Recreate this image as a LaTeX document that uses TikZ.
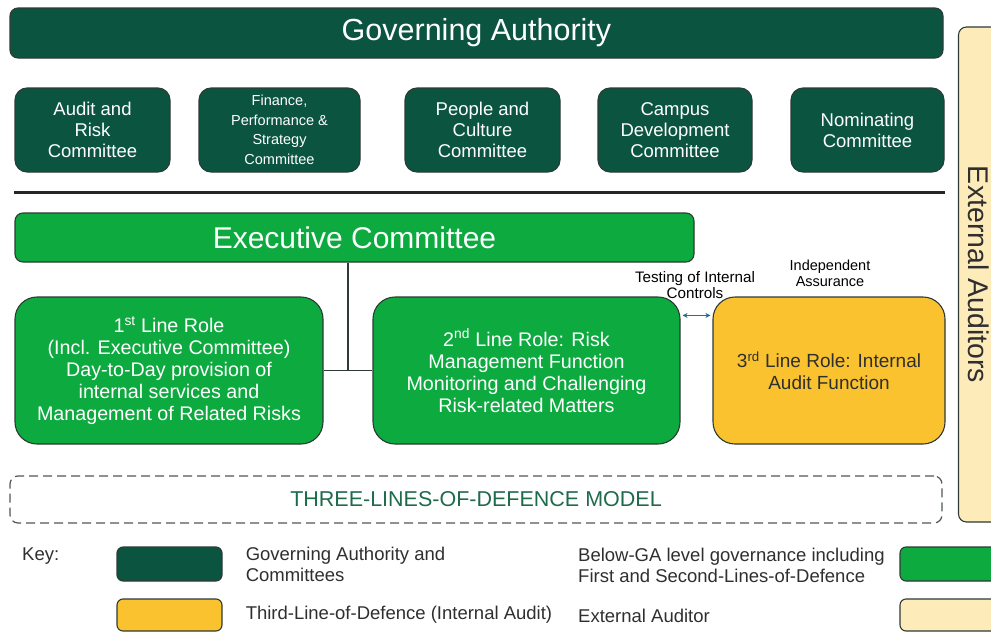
\documentclass[tikz,border=0pt]{standalone}
\usepackage{fontspec}
\setmainfont{Liberation Sans}
\usetikzlibrary{arrows.meta,positioning,calc}

\definecolor{gaDark}{HTML}{0B5540}
\definecolor{elGreen}{HTML}{0DAA40}
\definecolor{ilYellow}{HTML}{F9C22E}
\definecolor{eaCream}{HTML}{FDEBBA}
\definecolor{bdGrey}{HTML}{2E3A35}
\definecolor{tlText}{HTML}{1E6B4C}
\definecolor{tcBlue}{HTML}{2B6A94}
\definecolor{txDark}{HTML}{2F2F2F}

\newcommand{\pxfont}[2]{\fontsize{#1}{#2}\selectfont}

\tikzset{
  gabox/.style={
    draw=bdGrey, line width=1.1pt, inner sep=0pt, align=center
  },
  govbar/.style={gabox, fill=gaDark, text=white, rounded corners=8pt,
    minimum height=50pt, font=\pxfont{30.5}{34}},
  cttee/.style={gabox, fill=gaDark, text=white, rounded corners=12pt,
    minimum height=84pt, font=\pxfont{18.5}{21}},
  execbar/.style={gabox, fill=elGreen, text=white, rounded corners=8pt,
    minimum height=49pt, font=\pxfont{30}{34}},
  linerole/.style={gabox, fill=elGreen, text=white, rounded corners=22pt,
    minimum height=147pt, font=\pxfont{19.7}{22}},
  thirdrole/.style={linerole, fill=ilYellow, text=txDark},
  extaud/.style={gabox, fill=eaCream, text=txDark, rounded corners=8pt,
    rotate=-90, minimum width=495pt, minimum height=40pt, font=\pxfont{28.5}{32}},
  modelbox/.style={draw=bdGrey!85, line width=1.2pt, dash pattern=on 9pt off 5pt,
    rounded corners=8pt, minimum width=932pt, minimum height=47pt,
    text=tlText, font=\pxfont{21.5}{24}},
  swatch/.style={gabox, rounded corners=6pt, minimum width=105pt},
  keytext/.style={anchor=west, align=left, inner sep=0pt, text=txDark,
    font=\pxfont{18.5}{21}},
  tag/.style={align=center, inner sep=0pt, text=black, font=\pxfont{15.2}{16}},
  treeline/.style={line width=1.3pt, bdGrey},
  tctrl/.style={{Stealth[length=5pt,width=5pt]}-{Stealth[length=5pt,width=5pt]},
    line width=1.3pt, tcBlue}
}

\begin{document}
\begin{tikzpicture}[x=1pt, y=-1pt]
  \useasboundingbox (0,0) rectangle (991,632);
  \clip (0,0) rectangle (991,632);

  % governing authority and its committees
  \node[govbar, minimum width=933pt] (ga) at (476.5,33) {Governing Authority};
  \node[cttee, minimum width=155pt] (cmA) at (92.5,130) {Audit and\\Risk\\Committee};
  \node[cttee, minimum width=161pt, font=\pxfont{14.5}{19.5}] (cmB) at (279.5,130)
    {Finance,\\Performance \&\\Strategy\\Committee};
  \node[cttee, minimum width=155pt] (cmC) at (482.5,130) {People and\\Culture\\Committee};
  \node[cttee, minimum width=154pt] (cmD) at (675,130) {Campus\\Development\\Committee};
  \node[cttee, minimum width=153pt] (cmE) at (867.5,130) {Nominating\\Committee};
  \draw[line width=2.6pt, black!85] ([yshift=-20pt]cmA.south west) -- ([yshift=-20pt]cmE.south east);

  % executive and the three lines
  \node[execbar, minimum width=679pt] (exec) at (354.5,237.5) {Executive Committee};
  \node[linerole, minimum width=308pt] (line1) at (169,370.5)
    {1\textsuperscript{st} Line Role\\(Incl. Executive Committee)\\Day-to-Day provision of\\internal services and\\Management of Related Risks};
  \node[linerole, minimum width=307pt] (line2) at (526.5,370.5)
    {2\textsuperscript{nd} Line Role: Risk\\Management Function\\Monitoring and Challenging\\Risk-related Matters};
  \node[thirdrole, minimum width=232pt, font=\pxfont{19}{22}] (line3) at (829,370.5)
    {3\textsuperscript{rd} Line Role: Internal\\Audit Function};

  \coordinate (jn) at ($(line1.east)!0.5!(line2.west)$);
  \draw[treeline] (line1.east) -- (line2.west);
  \draw[treeline] (exec.south -| jn) -- (jn);
  \draw[tctrl] ([yshift=-19pt,xshift=2pt]line2.north east) -- ([yshift=-19pt,xshift=-2pt]line3.north west);
  \node[tag] (tst) at (695,285) {Testing of Internal\\Controls};
  \node[tag, font=\pxfont{14.5}{16}] (ind) at (830,273) {Independent\\Assurance};

  % external auditors down the right edge
  \node[extaud] (ext) at (978.5,274.5) {External Auditors};

  \node[modelbox] (model) at (476,499.5) {THREE-LINES-OF-DEFENCE MODEL};

  % key
  \node[keytext] (key) at (22,556) {Key:};
  \node[swatch, fill=gaDark, minimum height=34pt] (sw1) at (169.5,564) {};
  \node[swatch, fill=ilYellow, minimum height=32pt] (sw3) at (169.5,615) {};
  \node[swatch, fill=elGreen, minimum height=34pt, minimum width=110pt] (sw2) at (955,564) {};
  \node[swatch, fill=eaCream, minimum height=32pt, minimum width=110pt] (sw4) at (955,615) {};
  \node[keytext, right=23pt of sw1] (k1) {Governing Authority and\\Committees};
  \node[keytext, right=23pt of sw3] (k3) {Third-Line-of-Defence (Internal Audit)};
  \node[keytext] (k2) at (578,565.5) {Below-GA level governance including\\First and Second-Lines-of-Defence};
  \node[keytext] (k4) at (578,616) {External Auditor};
\end{tikzpicture}
\end{document}
